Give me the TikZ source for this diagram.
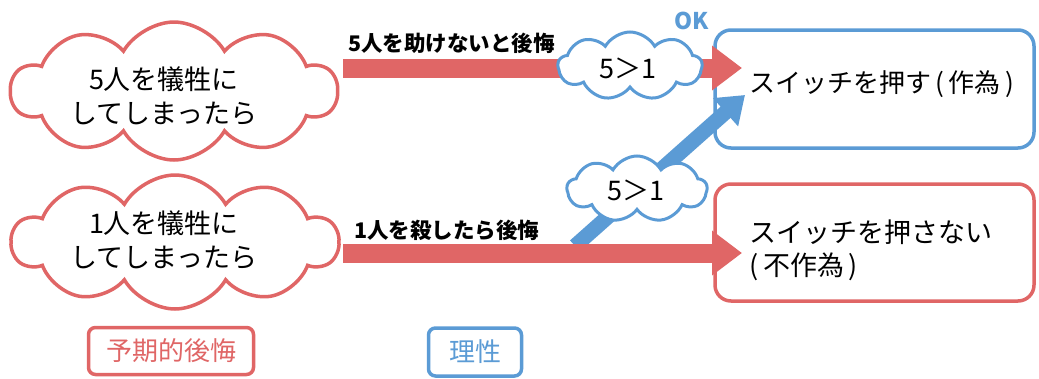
\documentclass[tikz,border=0pt]{standalone}
\usepackage{fontspec}
\setmainfont{Noto Sans CJK JP}
\usetikzlibrary{shapes.symbols,arrows.meta}
\definecolor{myred}{RGB}{224,102,102}
\definecolor{myblue}{RGB}{91,155,213}
\begin{document}
\begin{tikzpicture}[x=1pt,y=-1pt,
  cloudbase/.style={cloud, cloud puffs=10, cloud puff arc=120, cloud ignores aspect, fill=white, inner sep=0pt},
  redcloud/.style={cloudbase, draw=myred, line width=3.5pt},
  bluecloud/.style={cloudbase, cloud puffs=9, draw=myblue, line width=3pt},
  bigtxt/.style={font=\fontsize{27pt}{34pt}\selectfont, align=center, inner sep=0pt},
  lbltxt/.style={font=\bfseries\fontsize{21.5pt}{24pt}\selectfont, inner sep=0pt},
  resbox/.style={rounded corners=16pt, line width=3.5pt, fill=white},
  tagbox/.style={rounded corners=7pt, line width=3.5pt, fill=white, inner sep=0pt},
  redarrow/.style={draw=myred, line width=19pt, -{Triangle[length=30pt,width=43pt]}},
  bluearrow/.style={draw=myblue, line width=15pt, -{Triangle[length=26pt,width=36pt]}}
]
\useasboundingbox (0,0) rectangle (1039,378);

% result boxes
\draw[resbox, draw=myblue] (715,30) rectangle (1034,148);
\node[bigtxt, font=\fontsize{26pt}{34pt}\selectfont, anchor=west] (act) at (749,84) {スイッチを押す\hspace{4pt}(\hspace{5pt}作為\hspace{5pt})};
\draw[resbox, draw=myred] (715,184) rectangle (1034,301);
\node[bigtxt, anchor=west, align=left] (noact) at (749,250) {スイッチを押さない\\[-1pt](\hspace{5pt}不作為\hspace{4pt})};

% connector anchor points
\coordinate (t1s) at (343,68);
\coordinate (t1e) at (742,68);
\coordinate (t2s) at (343,253);
\coordinate (t2e) at (742,253);
\coordinate (bs) at (575,246);
\coordinate (be) at (745,95);

% arrows
\draw[redarrow] (t1s) -- (t1e);
\draw[bluearrow] (bs) -- (be);
\draw[redarrow] (t2s) -- (t2e);

% red clouds
\node[redcloud, minimum width=326pt, minimum height=138pt] (c1) at (174,91) {};
\node[bigtxt] (c1t) at (164,96) {5人を犠牲に\\してしまったら};
\node[redcloud, minimum width=326pt, minimum height=134pt] (c2) at (175,242) {};
\node[bigtxt] (c2t) at (164,240) {1人を犠牲に\\してしまったら};

% blue clouds
\node[bluecloud, minimum width=144pt, minimum height=68pt] (b1) at (630,66) {};
\node[bigtxt] (b1t) at (628,68) {5＞1};
\node[bluecloud, minimum width=140pt, minimum height=66pt] (b2) at (637,189) {};
\node[bigtxt] (b2t) at (636,190) {5＞1};

\node[font=\bfseries\fontsize{23pt}{26pt}\selectfont, text=myblue, inner sep=0pt] (ok) at (692,21) {OK};

% arrow labels
\node[lbltxt, anchor=west] (l1) at (348,43) {5人を助けないと後悔};
\node[lbltxt, anchor=west] (l2) at (354,230) {1人を殺したら後悔};

% category tags
\node[tagbox, draw=myred, text=myred, minimum width=165pt, minimum height=47pt, font=\fontsize{26pt}{30pt}\selectfont] (tag1) at (171,351) {予期的後悔};
\node[tagbox, draw=myblue, text=myblue, minimum width=93pt, minimum height=48pt, font=\fontsize{26pt}{30pt}\selectfont] (tag2) at (475,352) {理性};
\end{tikzpicture}
\end{document}
